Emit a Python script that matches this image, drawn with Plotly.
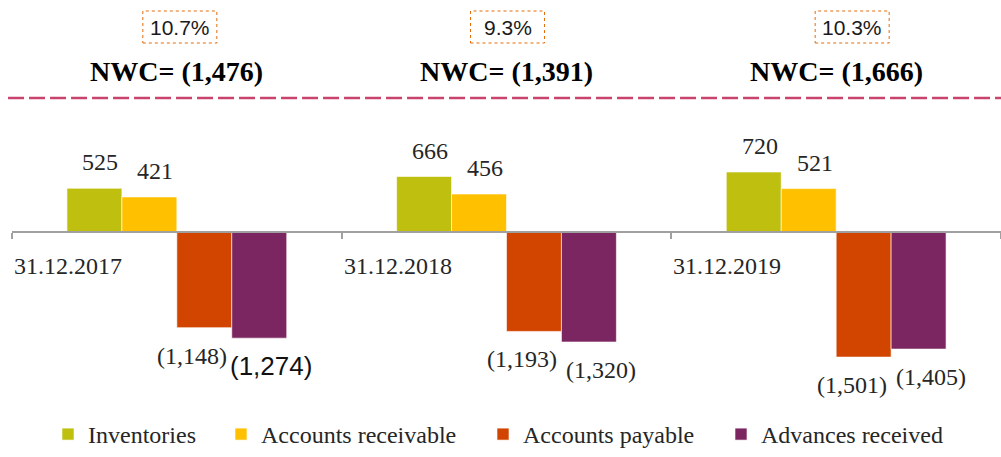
import plotly.graph_objects as go

# ---------------- data ----------------
categories = ["31.12.2017", "31.12.2018", "31.12.2019"]
series_names = ["Inventories", "Accounts receivable", "Accounts payable", "Advances received"]
inventories = [525, 666, 720]
receivables = [421, 456, 521]
payables = [-1148, -1193, -1501]
advances = [-1274, -1320, -1405]
nwc_values = [-1476, -1391, -1666]
nwc_pct = ["10.7%", "9.3%", "10.3%"]

# ---------------- styles ----------------
colors = ["#BFBF10", "#FFC000", "#D24500", "#7B2660"]
label_xshift = [6, 6, -12, 12]
box_xshift = [3, 1, 16]
legend_px = [48, 221, 483, 721]   # left edge of each legend entry (pixels)
SERIF = "Liberation Serif"
SANS = "Liberation Sans"
TXT = "#262626"

W, H = 1001, 457
ML, MR, MT, MB = 12, 0, 110, 57
plot_w = W - ML - MR
plot_h = H - MT - MB
zero_px = 232
ppu = 1 / 12.0  # pixels per unit
y_top = (zero_px - MT) / ppu
y_bot = -(H - MB - zero_px) / ppu


def paper_y(px):
    return (H - MB - px) / plot_h


def paper_x(px):
    return (px - ML) / plot_w


def fmt(v):
    return f"{v:,}" if v >= 0 else f"({abs(v):,})"


all_series = [inventories, receivables, payables, advances]
xs = list(range(len(categories)))
legend_ids = ["legend", "legend2", "legend3", "legend4"]

fig = go.Figure()
for k, (name, vals) in enumerate(zip(series_names, all_series)):
    fig.add_trace(go.Bar(
        x=xs, y=vals, name=name, legend=legend_ids[k],
        marker=dict(color=colors[k], line=dict(color="rgba(255,255,255,0.6)", width=1)),
        hoverinfo="skip",
    ))

annotations = []
n = len(series_names)
bar_w = (1 - 1 / 3) / n
for k, vals in enumerate(all_series):
    for i, v in enumerate(vals):
        xc = i + (-(n - 1) / 2 + k) * bar_w
        font = dict(family=SERIF, size=24, color=TXT)
        if k == 3 and i == 0:
            font = dict(family=SANS, size=26, color="#111111")
        annotations.append(dict(
            x=xc, y=v, xref="x", yref="y", text=fmt(v), showarrow=False,
            xanchor="center", yanchor="middle",
            xshift=label_xshift[k], yshift=26 if v >= 0 else -28,
            font=font,
        ))

# category labels (left-aligned at category boundary, below zero line)
for i, c in enumerate(categories):
    annotations.append(dict(
        x=i - 0.5, y=0, xref="x", yref="y", text=c, showarrow=False,
        xanchor="left", yanchor="middle", yshift=-34,
        font=dict(family=SERIF, size=24, color=TXT),
    ))

# NWC headers and percentage boxes
shapes = []
for i, (nv, pct) in enumerate(zip(nwc_values, nwc_pct)):
    annotations.append(dict(
        x=i, y=paper_y(72), xref="x", yref="paper", text=f"<b>NWC= {fmt(nv)}</b>",
        showarrow=False, xanchor="center", yanchor="middle",
        font=dict(family=SERIF, size=28, color="#000000"),
    ))
    annotations.append(dict(
        x=i, y=paper_y(27), xref="x", yref="paper", text=pct,
        showarrow=False, xanchor="center", yanchor="middle", xshift=box_xshift[i],
        font=dict(family=SANS, size=21, color="#1a1a1a"),
    ))
    shapes.append(dict(
        type="rect", xref="x", yref="paper", xsizemode="pixel", ysizemode="pixel",
        xanchor=i, yanchor=paper_y(27),
        x0=-37 + box_xshift[i], x1=37 + box_xshift[i], y0=-16, y1=16,
        line=dict(color="#E46C0A", width=1, dash="dot"), fillcolor="rgba(0,0,0,0)",
    ))

shapes.append(dict(
    type="line", xref="paper", yref="paper", x0=-0.004, x1=1, y0=paper_y(98), y1=paper_y(98),
    line=dict(color="#C8436E", width=2.5, dash="16px,5px"),
))

legend_style = dict(
    orientation="h", xanchor="left", y=paper_y(H), yanchor="bottom",
    font=dict(family=SERIF, size=24, color=TXT), itemwidth=30,
    itemclick=False, itemdoubleclick=False, bgcolor="rgba(0,0,0,0)",
)
legend_layout = {}
for k, lid in enumerate(legend_ids):
    legend_layout[lid] = dict(legend_style, x=paper_x(legend_px[k]))

fig.update_layout(
    width=W, height=H,
    margin=dict(l=ML, r=MR, t=MT, b=MB, autoexpand=False),
    paper_bgcolor="white", plot_bgcolor="white",
    font=dict(family=SERIF, color=TXT),
    barmode="group", bargap=1 / 3, bargroupgap=0,
    showlegend=True,
    xaxis=dict(
        range=[-0.5, 2.5], tickvals=[-0.5, 0.5, 1.5, 2.5], showticklabels=False,
        ticks="outside", ticklen=6, tickwidth=2, tickcolor="#A0A0A0",
        showline=True, linecolor="#A0A0A0", linewidth=2,
        showgrid=False, zeroline=False,
        anchor="free", position=(H - MB - zero_px) / plot_h,
    ),
    yaxis=dict(range=[y_bot, y_top], visible=False, showgrid=False, zeroline=False),
    annotations=annotations,
    shapes=shapes,
    **legend_layout,
)

fig.write_html(
    "out.html",
    config={"displayModeBar": False},
    post_script="document.body.style.margin='0';document.body.style.padding='0';",
)
